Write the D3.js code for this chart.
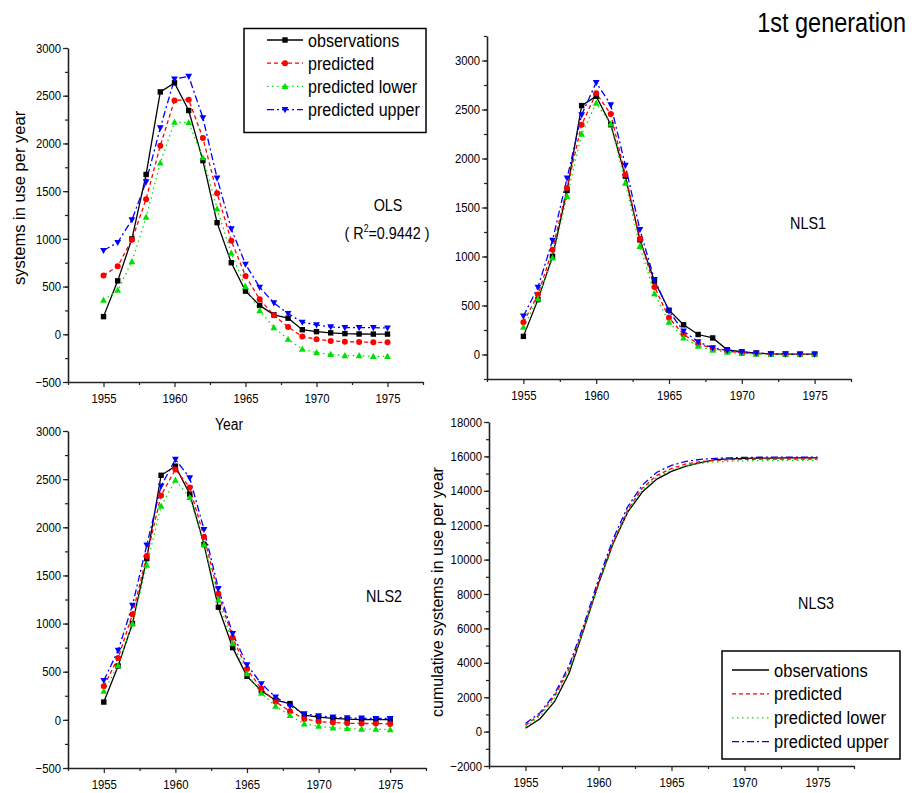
<!DOCTYPE html>
<html>
<head>
<meta charset="utf-8">
<script src="https://cdn.jsdelivr.net/npm/d3@7"></script>
<style>
body { margin: 0; background: #fff; }
text { font-family: "Liberation Sans", Arial, sans-serif; fill: #000; }
</style>
</head>
<body>
<div id="chart"></div>
<script>
const years = [1955, 1956, 1957, 1958, 1959, 1960, 1961, 1962, 1963, 1964, 1965,
    1966, 1967, 1968, 1969, 1970, 1971, 1972, 1973, 1974, 1975];

const observations = [185, 560, 1000, 1675, 2540, 2635, 2345, 1820, 1170, 750, 452,
    303, 204, 169, 48, 28, 15, 7, 3, 2, 2];

// OLS
const olsPredicted = [615, 713, 990, 1416, 1976, 2451, 2458, 2056, 1479, 979, 612,
    367, 199, 77, -24, -52, -70, -77, -80, -84, -84];
const olsLower = [357, 462, 762, 1227, 1797, 2224, 2217, 1850, 1315, 850, 500,
    248, 70, -52, -157, -192, -210, -224, -224, -231, -231];
const olsUpper = [878, 962, 1199, 1598, 2164, 2675, 2703, 2269, 1636, 1105, 734,
    493, 329, 217, 126, 98, 77, 70, 70, 70, 66];

// NLS1
const nls1Predicted = [330, 611, 1070, 1699, 2344, 2667, 2453, 1834, 1182, 690, 374,
    204, 109, 61, 34, 17, 10, 7, 3, 3, 3];
const nls1Lower = [279, 567, 985, 1614, 2249, 2565, 2354, 1749, 1104, 622, 330,
    170, 85, 44, 24, 10, 3, 3, 3, 3, 3];
const nls1Upper = [391, 686, 1165, 1800, 2446, 2775, 2548, 1930, 1274, 764, 442,
    238, 129, 68, 41, 24, 14, 7, 7, 3, 3];

// NLS2
const nls2Predicted = [350, 642, 1096, 1703, 2331, 2601, 2414, 1900, 1311, 853, 527,
    323, 187, 90, 10, -17, -28, -35, -38, -38, -42];
const nls2Lower = [298, 565, 999, 1606, 2220, 2490, 2310, 1821, 1249, 791, 479,
    277, 142, 45, -42, -66, -83, -90, -97, -97, -101];
const nls2Upper = [409, 721, 1190, 1814, 2428, 2705, 2514, 1977, 1363, 895, 572,
    375, 236, 146, 62, 42, 28, 21, 17, 14, 14];

// NLS3 (cumulative)
const cumObserved = [190, 750, 1750, 3420, 5960, 8600, 10940, 12760, 13930, 14680, 15130,
    15440, 15640, 15810, 15860, 15880, 15900, 15905, 15910, 15910, 15910];
const cumPredicted = [370, 1000, 2080, 3700, 6050, 8650, 11000, 12900, 14150, 14900, 15300,
    15560, 15700, 15770, 15810, 15830, 15840, 15845, 15850, 15850, 15850];
const cumLower = [290, 900, 1960, 3580, 5920, 8520, 10880, 12800, 14050, 14800, 15220,
    15460, 15600, 15680, 15720, 15740, 15755, 15760, 15765, 15770, 15770];
const cumUpper = [470, 1100, 2200, 3860, 6220, 8850, 11200, 13080, 14330, 15080, 15480,
    15710, 15830, 15890, 15920, 15940, 15950, 15955, 15960, 15960, 15960];

const seriesNames = ['observations', 'predicted', 'predicted lower', 'predicted upper'];

const styles = [
    { color: '#000000', dash: null, marker: 'square' },
    { color: '#ff0000', dash: '4,3', marker: 'circle' },
    { color: '#00e000', dash: '1.5,3.5', marker: 'up' },
    { color: '#0000ff', dash: '7,3,2,3', marker: 'down' }
];

const width = 916, height = 793;
const squeeze = 0.87; // 원본 글자가 가로로 좁음

const svg = d3.select('#chart')
    .append('svg')
    .attr('width', width)
    .attr('height', height);

const panels = [
    { x: [68, 423], y: [382, 48], yDomain: [-500, 3000], major: 500, minor: 250,
      series: [observations, olsPredicted, olsLower, olsUpper], markers: true },
    { x: [487, 851], y: [379, 36], yDomain: [-250, 3250], major: 500, minor: 250,
      majorFrom: 0, majorTo: 3000,
      series: [observations, nls1Predicted, nls1Lower, nls1Upper], markers: true },
    { x: [68, 426], y: [768, 431], yDomain: [-500, 3000], major: 500, minor: 250,
      series: [observations, nls2Predicted, nls2Lower, nls2Upper], markers: true },
    { x: [489, 854], y: [766, 422], yDomain: [-2000, 18000], major: 2000, minor: 1000,
      series: [cumObserved, cumPredicted, cumLower, cumUpper], markers: false }
];

function addText(parent, x, y, str, size, anchor) {
    return parent.append('text')
        .attr('transform', `translate(${x},${y}) scale(${squeeze},1)`)
        .attr('text-anchor', anchor || 'start')
        .attr('font-size', size + 'px')
        .text(str);
}

function drawMarker(g, type, cx, cy, color) {
    if (type === 'square') {
        g.append('rect').attr('x', cx - 2.7).attr('y', cy - 2.7)
            .attr('width', 5.4).attr('height', 5.4).attr('fill', color);
    } else if (type === 'circle') {
        g.append('circle').attr('cx', cx).attr('cy', cy).attr('r', 3).attr('fill', color);
    } else if (type === 'up') {
        g.append('path').attr('d', `M${cx},${cy - 3.6}L${cx + 3.4},${cy + 2.6}L${cx - 3.4},${cy + 2.6}Z`)
            .attr('fill', color);
    } else {
        g.append('path').attr('d', `M${cx},${cy + 3.6}L${cx + 3.4},${cy - 2.6}L${cx - 3.4},${cy - 2.6}Z`)
            .attr('fill', color);
    }
}

panels.forEach(p => {
    const x = d3.scaleLinear().domain([1952.5, 1977.5]).range(p.x);
    const y = d3.scaleLinear().domain(p.yDomain).range(p.y);
    const g = svg.append('g');

    // 보조 눈금
    const minorY = d3.range(p.yDomain[0], p.yDomain[1] + 1, p.minor);
    g.append('g')
        .attr('transform', `translate(${p.x[0]},0)`)
        .call(d3.axisLeft(y).tickValues(minorY).tickSize(3).tickFormat(''))
        .call(a => a.select('.domain').remove());
    g.append('g')
        .attr('transform', `translate(0,${p.y[0]})`)
        .call(d3.axisBottom(x).tickValues([1952.5, 1957.5, 1962.5, 1967.5, 1972.5, 1977.5])
            .tickSize(3).tickFormat(''))
        .call(a => a.select('.domain').remove());

    // 주 눈금
    const from = p.majorFrom !== undefined ? p.majorFrom : p.yDomain[0];
    const to = p.majorTo !== undefined ? p.majorTo : p.yDomain[1];
    g.append('g')
        .attr('transform', `translate(${p.x[0]},0)`)
        .call(d3.axisLeft(y).tickValues(d3.range(from, to + 1, p.major))
            .tickSize(5).tickSizeOuter(0).tickPadding(3).tickFormat(d3.format('d')));
    g.append('g')
        .attr('transform', `translate(0,${p.y[0]})`)
        .call(d3.axisBottom(x).tickValues([1955, 1960, 1965, 1970, 1975])
            .tickSize(5).tickSizeOuter(0).tickPadding(7).tickFormat(d3.format('d')));

    g.selectAll('.tick line').attr('stroke', '#222').attr('stroke-width', 1.2);
    g.selectAll('.domain').attr('stroke', '#222').attr('stroke-width', 1.6);
    g.selectAll('.tick text').attr('font-size', '13px')
        .attr('font-family', '"Liberation Sans", Arial, sans-serif').attr('fill', '#000')
        .attr('transform', `scale(${squeeze},1)`);

    const line = d3.line().x((d, i) => x(years[i])).y(d => y(d));

    p.series.forEach((values, si) => {
        const st = styles[si];
        g.append('path')
            .datum(values)
            .attr('fill', 'none')
            .attr('stroke', st.color)
            .attr('stroke-width', 1.3)
            .attr('stroke-dasharray', st.dash)
            .attr('d', line);
    });

    if (p.markers) {
        p.series.forEach((values, si) => {
            const st = styles[si];
            const mg = g.append('g');
            values.forEach((v, i) => drawMarker(mg, st.marker, x(years[i]), y(v), st.color));
        });
    }
});

// 범례 1 (OLS)
const leg1 = svg.append('g');
leg1.append('rect').attr('x', 244).attr('y', 28.5).attr('width', 182).attr('height', 104)
    .attr('fill', '#fff').attr('stroke', '#000').attr('stroke-width', 1.5);
seriesNames.forEach((name, i) => {
    const cy = 40 + i * 23.2;
    const st = styles[i];
    leg1.append('line').attr('x1', 267).attr('x2', 303).attr('y1', cy).attr('y2', cy)
        .attr('stroke', st.color).attr('stroke-width', 1.3).attr('stroke-dasharray', st.dash);
    drawMarker(leg1, st.marker, 285, cy, st.color);
    addText(leg1, 308, cy + 6.5, name, 18.5);
});

// 범례 2 (NLS3)
const leg2 = svg.append('g');
leg2.append('rect').attr('x', 722).attr('y', 651).attr('width', 178).attr('height', 108)
    .attr('fill', '#fff').attr('stroke', '#000').attr('stroke-width', 1.5);
seriesNames.forEach((name, i) => {
    const cy = 670 + i * 23.9;
    const st = styles[i];
    leg2.append('line').attr('x1', 732).attr('x2', 769).attr('y1', cy).attr('y2', cy)
        .attr('stroke', st.color).attr('stroke-width', 1.3).attr('stroke-dasharray', st.dash);
    addText(leg2, 774, cy + 6.5, name, 19);
});

// 텍스트 라벨
addText(svg, 906, 32, '1st generation', 27, 'end');

svg.append('text').attr('transform', 'translate(25,198) rotate(-90)')
    .attr('text-anchor', 'middle').attr('font-size', '16.5px').text('systems in use per year');

svg.append('text').attr('transform', 'translate(443,592) rotate(-90)')
    .attr('text-anchor', 'middle').attr('font-size', '16px').text('cumulative systems in use per year');

addText(svg, 229, 430, 'Year', 16, 'middle');
addText(svg, 388, 211, 'OLS', 16.5, 'middle');

const r2 = addText(svg, 387, 239, null, 16.5, 'middle');
r2.append('tspan').text('( R');
r2.append('tspan').attr('font-size', '10px').attr('dy', -7).text('2');
r2.append('tspan').attr('dy', 7).text('=0.9442 )');

addText(svg, 808, 229, 'NLS1', 16.5, 'middle');
addText(svg, 384, 602, 'NLS2', 16.5, 'middle');
addText(svg, 816, 609, 'NLS3', 16.5, 'middle');
</script>
</body>
</html>
